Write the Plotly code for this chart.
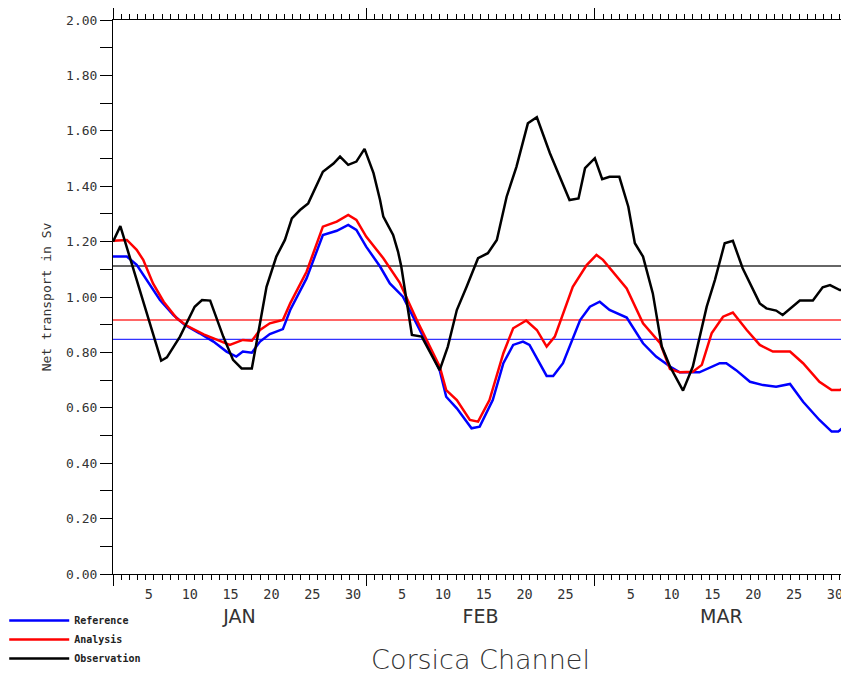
import plotly.graph_objects as go

# ---- data (x = days since 1 Jan, y = net transport in Sv) ----
obs_days = [0, 0.9, 5.9, 6.6, 8.2, 10.0, 10.9, 11.9, 13.5, 14.7, 15.75, 17.0, 18.0, 18.8,
            20.0, 21.05, 21.9, 22.9, 23.9, 25.7, 27.0, 27.8, 28.8, 29.8, 30.8, 31.9, 32.7,
            33.1, 34.3, 34.9, 35.3, 36.6, 37.8, 39.8, 40.0, 41.0, 42.1, 43.3, 44.7, 45.9,
            47.0, 48.2, 49.4, 50.8, 51.9, 53.5, 55.9, 57.0, 57.8, 59.0, 59.9, 60.8, 62.0,
            63.1, 63.9, 64.9, 66.1, 67.2, 68.2, 69.8, 71.0, 72.7, 73.7, 74.9, 75.9, 77.1,
            79.2, 80.0, 81.2, 82.0, 84.1, 85.7, 86.9, 87.8, 89.0, 90.0]
obs_vals = [1.20, 1.256, 0.770, 0.782, 0.857, 0.965, 0.989, 0.987, 0.857, 0.773, 0.742, 0.742,
            0.905, 1.037, 1.146, 1.206, 1.284, 1.314, 1.338, 1.452, 1.482, 1.507, 1.477, 1.489,
            1.535, 1.447, 1.350, 1.290, 1.224, 1.164, 1.110, 0.863, 0.857, 0.749, 0.736, 0.821,
            0.953, 1.037, 1.140, 1.158, 1.206, 1.362, 1.470, 1.627, 1.649, 1.519, 1.350, 1.356,
            1.465, 1.501, 1.425, 1.434, 1.434, 1.326, 1.194, 1.146, 1.013, 0.821, 0.749, 0.662,
            0.749, 0.965, 1.061, 1.194, 1.203, 1.104, 0.977, 0.959, 0.951, 0.935, 0.987, 0.987,
            1.035, 1.043, 1.025, 1.025]

ana_days = [0, 1.7, 2.9, 3.7, 4.9, 6.2, 7.8, 9.0, 11.1, 12.7, 14.3, 15.9, 17.0, 18.0, 19.2,
            20.8, 21.7, 23.7, 25.7, 27.4, 28.8, 29.8, 31.0, 33.1, 35.1, 37.2, 38.8, 40.0,
            40.8, 42.1, 43.7, 44.7, 46.1, 47.8, 49.0, 50.6, 51.9, 53.1, 54.1, 55.1, 56.3,
            58.0, 59.2, 60.0, 61.7, 62.9, 64.9, 67.0, 68.2, 69.4, 71.0, 72.1, 73.3, 74.7,
            75.9, 77.6, 79.2, 80.8, 82.9, 84.5, 86.5, 88.0, 89.0, 90.0]
ana_vals = [1.203, 1.206, 1.170, 1.134, 1.049, 0.983, 0.923, 0.897, 0.865, 0.847, 0.827, 0.845,
            0.842, 0.881, 0.905, 0.917, 0.977, 1.091, 1.254, 1.272, 1.296, 1.278, 1.218, 1.140,
            1.052, 0.917, 0.821, 0.749, 0.664, 0.628, 0.556, 0.550, 0.628, 0.797, 0.887, 0.915,
            0.881, 0.821, 0.857, 0.941, 1.037, 1.115, 1.152, 1.134, 1.073, 1.031, 0.905, 0.833,
            0.740, 0.728, 0.730, 0.755, 0.869, 0.929, 0.944, 0.881, 0.827, 0.803, 0.803, 0.761,
            0.694, 0.664, 0.664, 0.682]

ref_days = [0, 1.7, 2.9, 4.1, 5.75, 7.4, 8.8, 10.6, 12.3, 13.9, 15.1, 15.9, 17.0, 18.0, 19.2,
            20.8, 21.7, 23.7, 25.7, 27.4, 28.8, 29.8, 31.0, 32.7, 33.9, 35.5, 37.2, 38.8, 40.0,
            40.8, 42.1, 43.9, 44.9, 46.5, 47.8, 49.0, 50.2, 51.0, 53.1, 53.9, 55.1, 57.2, 58.4,
            59.6, 60.8, 62.9, 64.9, 66.5, 68.2, 69.4, 71.8, 74.3, 75.1, 76.3, 78.0, 79.6, 81.2,
            82.9, 84.5, 86.5, 88.0, 88.8, 90.0]
ref_vals = [1.146, 1.146, 1.116, 1.061, 0.989, 0.935, 0.899, 0.869, 0.839, 0.803, 0.785, 0.803,
            0.799, 0.839, 0.866, 0.884, 0.953, 1.067, 1.224, 1.239, 1.260, 1.242, 1.182, 1.110,
            1.049, 1.001, 0.905, 0.809, 0.736, 0.640, 0.598, 0.526, 0.532, 0.628, 0.761, 0.827,
            0.839, 0.827, 0.715, 0.715, 0.761, 0.917, 0.965, 0.983, 0.953, 0.926, 0.833, 0.785,
            0.749, 0.728, 0.728, 0.761, 0.761, 0.736, 0.694, 0.682, 0.676, 0.686, 0.622, 0.556,
            0.514, 0.514, 0.544]

series_names = ["Reference", "Analysis", "Observation"]
series_colors = ["#0000ff", "#ff0000", "#000000"]
mean_vals = [0.847, 0.917, 1.112]     # Reference, Analysis, Observation means
mean_colors = ["#3333ff", "#ff3333", "#333333"]

period_days = [0, 90]
month_bounds = [0, 31, 59, 90]
month_centers = [15.5, 45, 74.5]
month_labels = ["JAN", "FEB", "MAR"]
month_starts = [0, 31, 59]
month_lengths = [31, 28, 31]
day_numbers = [5, 10, 15, 20, 25, 30]

day_label_pos = []
day_label_txt = []
for start, length in zip(month_starts, month_lengths):
    for d in day_numbers:
        if d <= length:
            day_label_pos.append(start + d - 0.6)
            day_label_txt.append(str(d))

# ---- figure ----
# The page body adds an 8px offset; the figure is sized so that it fits the window.
W, H = 841, 665
MONO = "DejaVu Sans Mono"

fig = go.Figure()

for mv, mc in zip(mean_vals, mean_colors):
    fig.add_trace(go.Scatter(x=period_days, y=[mv, mv], mode="lines",
                             line=dict(color=mc, width=1.3), showlegend=False,
                             hoverinfo="skip"))

for name, color, xs, ys in zip(series_names, series_colors,
                               [ref_days, ana_days, obs_days],
                               [ref_vals, ana_vals, obs_vals]):
    fig.add_trace(go.Scatter(x=xs, y=ys, mode="lines", name=name,
                             line=dict(color=color, width=2.5)))

# helper traces to carry the label axes
fig.add_trace(go.Scatter(x=period_days, y=[None, None], xaxis="x2", showlegend=False, hoverinfo="skip"))
fig.add_trace(go.Scatter(x=period_days, y=[None, None], xaxis="x3", showlegend=False, hoverinfo="skip"))

fig.update_layout(
    width=W, height=H,
    margin=dict(l=105, r=1, t=12, b=99, autoexpand=False),
    plot_bgcolor="white", paper_bgcolor="white",
    xaxis=dict(range=[0, 90], tickvals=month_bounds, ticks="outside", ticklen=11,
               tickwidth=1, tickcolor="black", showticklabels=False, showline=True,
               linecolor="black", linewidth=1, mirror="allticks", showgrid=False,
               zeroline=False, automargin=False,
               minor=dict(dtick=1, tick0=0, ticks="outside", ticklen=5,
                          tickcolor="black", tickwidth=1, showgrid=False)),
    xaxis2=dict(overlaying="x", anchor="y", side="bottom", range=[0, 90],
                tickvals=day_label_pos, ticktext=day_label_txt, ticks="",
                showline=False, showgrid=False, zeroline=False,
                tickfont=dict(family=MONO, size=13.5, color="#333"),
                ticklabelstandoff=10, automargin=False),
    xaxis3=dict(overlaying="x", anchor="y", side="bottom", range=[0, 90],
                tickvals=month_centers, ticktext=month_labels, ticks="",
                showline=False, showgrid=False, zeroline=False,
                tickfont=dict(family="DejaVu Sans", size=19, color="#333"),
                ticklabelstandoff=29, automargin=False),
    yaxis=dict(range=[0, 2], tick0=0, dtick=0.2, tickformat=".2f", ticks="outside",
               ticklen=12, tickwidth=1, tickcolor="black", showline=True,
               linecolor="black", linewidth=1, mirror=True, showgrid=False,
               zeroline=False, tickfont=dict(family=MONO, size=13, color="#333"),
               automargin=True,
               minor=dict(dtick=0.1, ticks="outside", ticklen=12, tickcolor="black",
                          tickwidth=1, showgrid=False),
               title=dict(text="Net transport in Sv",
                          font=dict(family=MONO, size=13, color="#333"),
                          standoff=11)),
    title=dict(text="Corsica Channel", x=0.5, xref="paper", xanchor="center",
               y=1 - 652 / H, yref="container", yanchor="middle",
               font=dict(family="DejaVu Sans", size=27, color="#333", weight=300)),
    legend=dict(x=-0.148, xref="paper", y=1 - 598 / H, yref="container",
                xanchor="left", yanchor="top", itemwidth=60,
                font=dict(family=MONO, size=10, color="#222", weight="bold"),
                bgcolor="rgba(0,0,0,0)", tracegroupgap=0),
    showlegend=True,
)

fig.write_html("out.html")
